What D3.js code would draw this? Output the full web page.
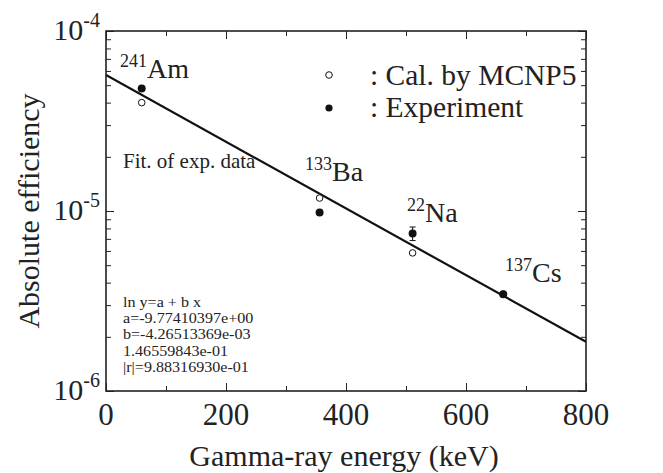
<!DOCTYPE html>
<html>
<head>
<meta charset="utf-8">
<script src="https://cdn.jsdelivr.net/npm/d3@7"></script>
<style>
  body { margin: 0; background: #fff; }
  svg text { font-family: "Liberation Serif", "DejaVu Serif", serif; fill: #222; }
</style>
</head>
<body>
<div id="chart"></div>
<script>
// Data
const sources = ["241Am", "133Ba", "22Na", "137Cs"];
const energies = [59.5, 356, 511, 662];             // keV
const expEff = [4.8e-5, 9.8e-6, 7.5e-6, 3.45e-6];   // experiment
const expErr = [0, 0, 0.65e-6, 0];
const calEff = [4.0e-5, 1.18e-5, 5.85e-6, 3.45e-6]; // MCNP5
const fitA = -9.77410397, fitB = -4.26513369e-3;
const fitText = ["ln y=a + b x", "a=-9.77410397e+00", "b=-4.26513369e-03", "1.46559843e-01", "|r|=9.88316930e-01"];
const xTicks = [0, 200, 400, 600, 800];
const xMinor = [100, 300, 500, 700];
const yTicks = [1e-4, 1e-5, 1e-6];

const margin = { top: 31, right: 77, bottom: 82, left: 106 },
  width = 663 - margin.left - margin.right,
  height = 473 - margin.top - margin.bottom;

const svg = d3.select("#chart").append("svg")
  .attr("width", 663).attr("height", 473);
const g = svg.append("g").attr("transform", `translate(${margin.left},${margin.top})`);

const x = d3.scaleLinear().domain([0, 800]).range([0, width]);
const y = d3.scaleLog().domain([1e-6, 1e-4]).range([height, 0]);

// minor y values 2..9 in each decade
const yMinor = [];
[1e-6, 1e-5].forEach(d => { for (let k = 2; k <= 9; k++) yMinor.push(d * k); });

function styleAxis(sel) {
  sel.select(".domain").remove();
  sel.selectAll(".tick line").attr("stroke", "#222").attr("stroke-width", 1);
  sel.selectAll("text").remove();
}

// ticks pointing inward on all four sides
g.append("g").attr("transform", `translate(0,${height})`)
  .call(d3.axisBottom(x).tickValues(xTicks).tickSize(-8)).call(styleAxis);
g.append("g").attr("transform", `translate(0,${height})`)
  .call(d3.axisBottom(x).tickValues(xMinor).tickSize(-5)).call(styleAxis);
g.append("g").call(d3.axisTop(x).tickValues(xTicks).tickSize(-8)).call(styleAxis);
g.append("g").call(d3.axisTop(x).tickValues(xMinor).tickSize(-5)).call(styleAxis);
g.append("g").call(d3.axisLeft(y).tickValues(yTicks).tickSize(-8)).call(styleAxis);
g.append("g").call(d3.axisLeft(y).tickValues(yMinor).tickSize(-5)).call(styleAxis);
g.append("g").attr("transform", `translate(${width},0)`)
  .call(d3.axisRight(y).tickValues(yTicks).tickSize(-8)).call(styleAxis);
g.append("g").attr("transform", `translate(${width},0)`)
  .call(d3.axisRight(y).tickValues(yMinor).tickSize(-5)).call(styleAxis);

// frame
g.append("rect").attr("width", width).attr("height", height)
  .attr("fill", "none").attr("stroke", "#222").attr("stroke-width", 1.6);

// x tick labels
g.selectAll(".xlab").data(xTicks).enter().append("text")
  .attr("x", d => x(d)).attr("y", height + 34)
  .attr("text-anchor", "middle").attr("font-size", 31).text(d => d);

// y tick labels 10^-n
yTicks.forEach(v => {
  const t = g.append("text").attr("x", -6).attr("y", y(v) + 9)
    .attr("text-anchor", "end").attr("font-size", 30);
  t.append("tspan").text("10");
  t.append("tspan").attr("dy", -13).attr("font-size", 20).text(Math.round(Math.log10(v)));
});

// axis titles
svg.append("text").attr("x", margin.left + width / 2 - 2).attr("y", 466)
  .attr("text-anchor", "middle").attr("font-size", 30).text("Gamma-ray energy (keV)");
svg.append("text").attr("transform", `translate(39,${margin.top + height / 2}) rotate(-90)`)
  .attr("text-anchor", "middle").attr("font-size", 30).text("Absolute efficiency");

// fit line
g.append("clipPath").attr("id", "clip").append("rect").attr("width", width).attr("height", height);
const fitX = [0, 800];
g.append("path").datum(fitX)
  .attr("clip-path", "url(#clip)")
  .attr("fill", "none").attr("stroke", "#111").attr("stroke-width", 2.2)
  .attr("d", d3.line().x(d => x(d)).y(d => y(Math.exp(fitA + fitB * d))));

// error bars
energies.forEach((e, i) => {
  if (!expErr[i]) return;
  const x0 = x(e), y1 = y(expEff[i] + expErr[i]), y2 = y(expEff[i] - expErr[i]);
  g.append("line").attr("x1", x0).attr("x2", x0).attr("y1", y1).attr("y2", y2).attr("stroke", "#111");
  g.append("line").attr("x1", x0 - 3).attr("x2", x0 + 3).attr("y1", y1).attr("y2", y1).attr("stroke", "#111");
  g.append("line").attr("x1", x0 - 3).attr("x2", x0 + 3).attr("y1", y2).attr("y2", y2).attr("stroke", "#111");
});

// calculated (open) and experimental (filled) points
g.selectAll(".cal").data(energies).enter().append("circle")
  .attr("cx", d => x(d)).attr("cy", (d, i) => y(calEff[i])).attr("r", 3.3)
  .attr("fill", "#fff").attr("stroke", "#111").attr("stroke-width", 1);
g.selectAll(".exp").data(energies).enter().append("circle")
  .attr("cx", d => x(d)).attr("cy", (d, i) => y(expEff[i])).attr("r", 4)
  .attr("fill", "#111");

// source labels
const labelPos = [[120, 78], [305, 181], [407, 222], [505, 282]];
sources.forEach((s, i) => {
  const m = s.match(/^(\d+)(\D+)$/);
  const t = svg.append("text").attr("x", labelPos[i][0]).attr("y", labelPos[i][1]).attr("font-size", 28);
  t.append("tspan").attr("font-size", 18).attr("dy", -11).text(m[1]);
  t.append("tspan").attr("dy", 11).text(m[2]);
});

// legend
svg.append("circle").attr("cx", 329).attr("cy", 75).attr("r", 3.3)
  .attr("fill", "#fff").attr("stroke", "#111");
svg.append("circle").attr("cx", 329).attr("cy", 108).attr("r", 3.6).attr("fill", "#111");
svg.append("text").attr("x", 370).attr("y", 85).attr("font-size", 29.5).text(": Cal. by MCNP5");
svg.append("text").attr("x", 370).attr("y", 117).attr("font-size", 29.5).text(": Experiment");

// fit annotations
svg.append("text").attr("x", 123).attr("y", 168).attr("font-size", 21).text("Fit. of exp. data");
const fitBox = svg.append("g").attr("transform", "translate(123,0) scale(1.15,1)");
fitText.forEach((s, i) => {
  fitBox.append("text").attr("x", 0).attr("y", 307 + i * 16.2).attr("font-size", 14).text(s);
});
</script>
</body>
</html>
